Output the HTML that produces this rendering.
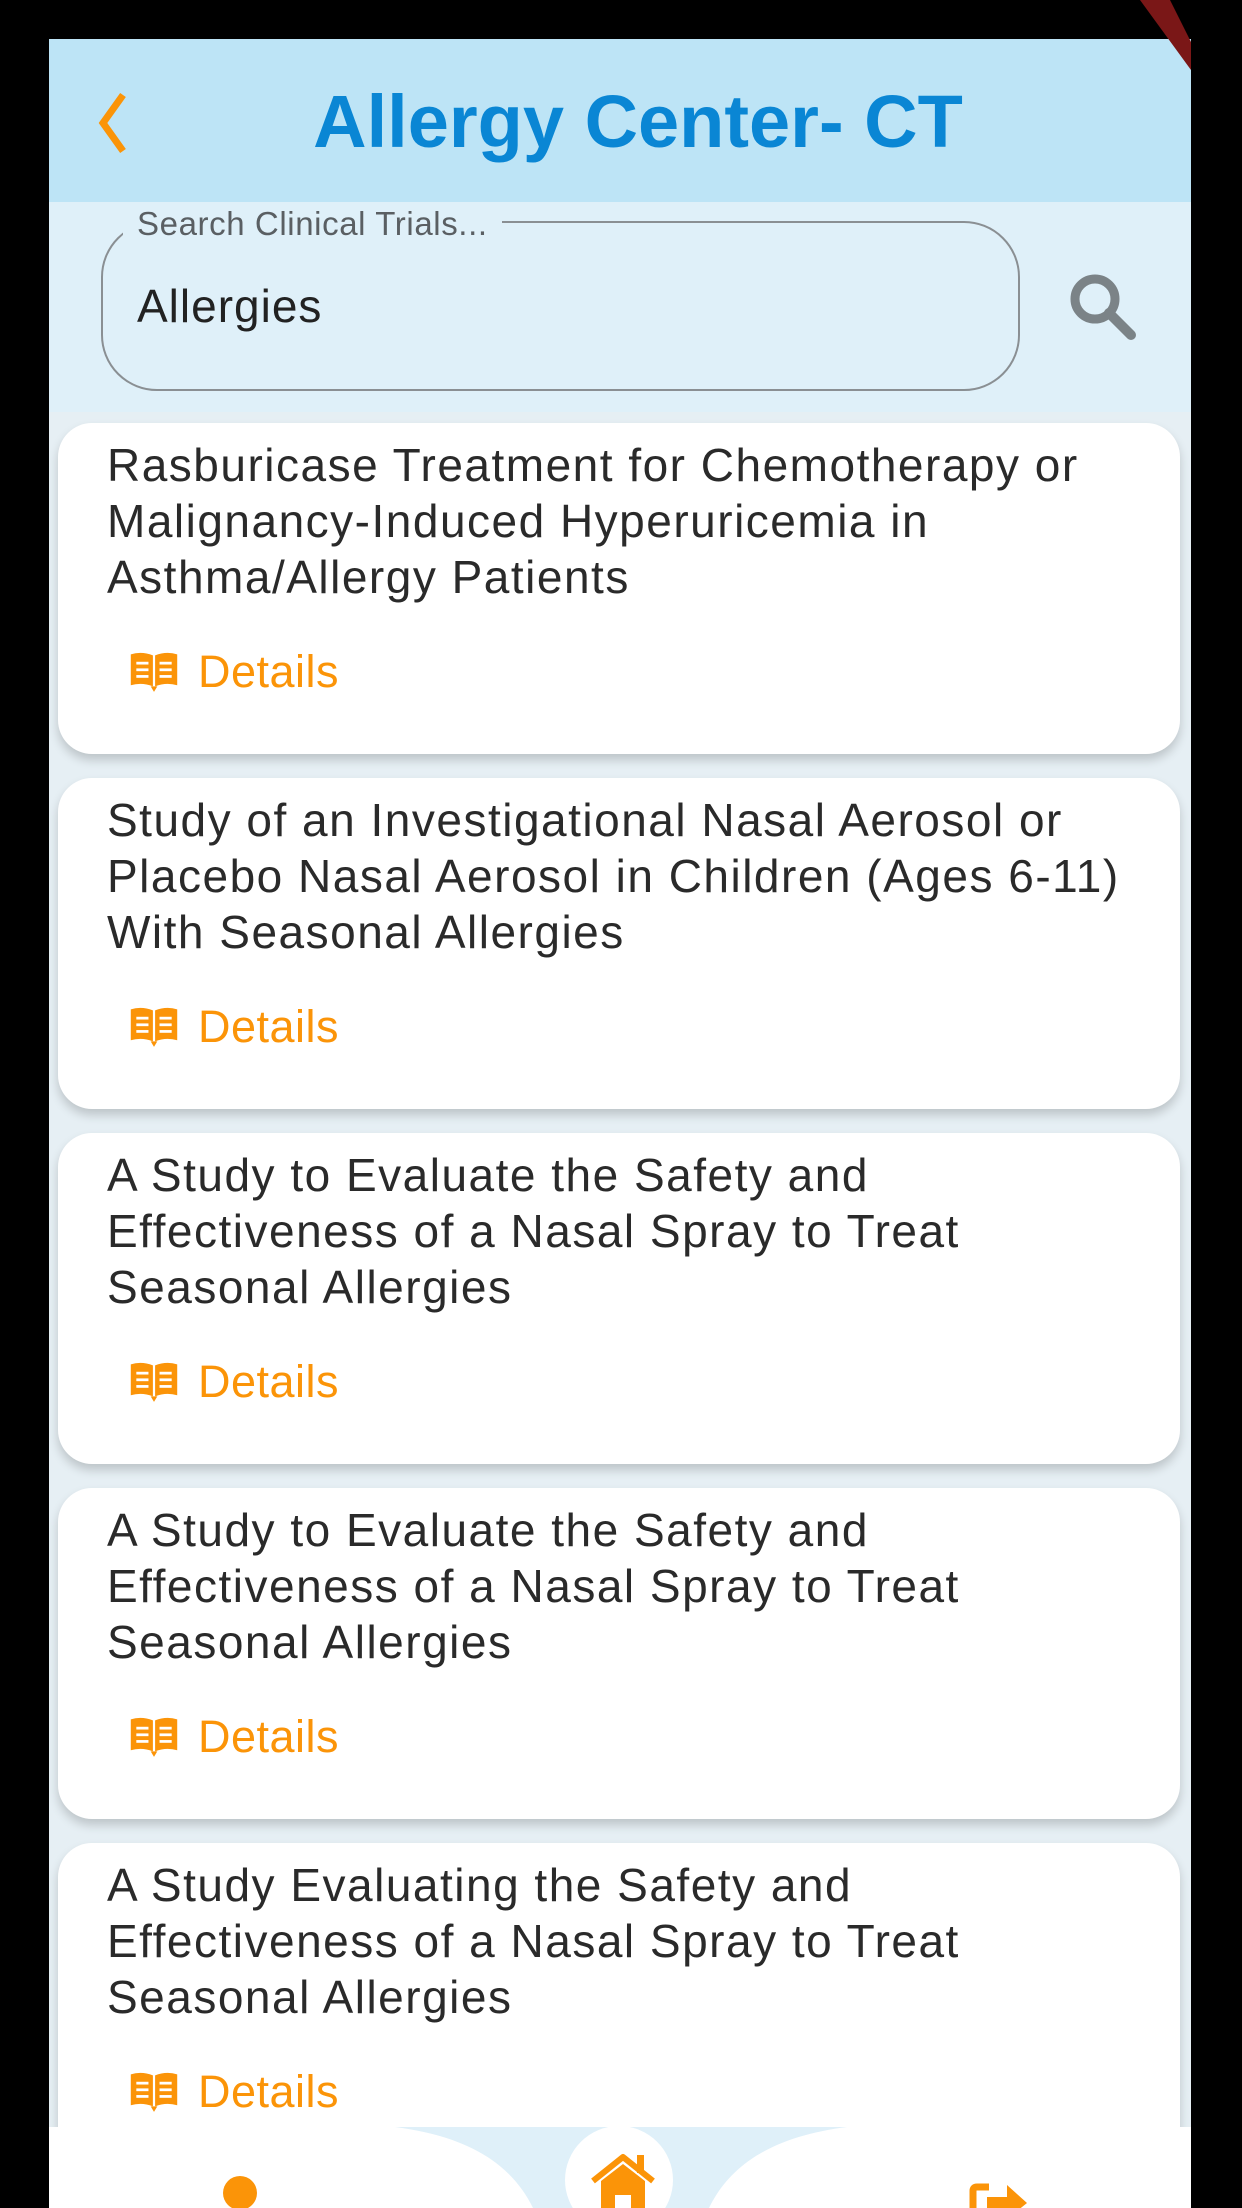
<!DOCTYPE html>
<html><head><meta charset="utf-8"><style>
*{margin:0;padding:0;box-sizing:border-box}
body{width:1242px;height:2208px;background:#000;position:relative;overflow:hidden;font-family:"Liberation Sans",sans-serif}
.abs{position:absolute}
#screen{left:49px;top:39px;width:1142px;height:2169px;background:#e6eff4;overflow:hidden}
.card{position:absolute;left:9px;width:1122px;height:331px;background:#fff;border-radius:34px;box-shadow:0 6px 10px rgba(0,0,0,0.18)}
.card .t{position:absolute;left:49px;top:14px;font-size:46px;line-height:56px;color:#2a2a2a;letter-spacing:1.5px}
.card .d{position:absolute;left:70px;top:224px;height:50px;display:flex;align-items:center;color:#fb9408;font-size:45px;letter-spacing:0.5px}
.card .d svg{margin-right:18px}
</style></head><body>
<div id="screen" class="abs">
  <div class="abs" style="left:0;top:0;width:1142px;height:163px;background:#bde4f6"></div>
  <svg class="abs" style="left:44px;top:52px" width="40" height="64" viewBox="0 0 40 64"><polyline points="30,4 10,32 30,60" fill="none" stroke="#fb9408" stroke-width="7"/></svg>
  <div class="abs" style="left:18px;width:1142px;top:38px;text-align:center;font-size:74px;font-weight:bold;color:#0a86d4;line-height:90px">Allergy Center- CT</div>
  <div class="abs" style="left:0;top:163px;width:1142px;height:210px;background:#dff0f9"></div>
  <div class="abs" style="left:52px;top:182px;width:919px;height:170px;border:2px solid #8a8f93;border-radius:56px"></div>
  <div class="abs" style="left:74px;top:166px;padding:0 14px;background:#dff0f9;font-size:33px;color:#5a5f63;line-height:38px;letter-spacing:0.6px">Search Clinical Trials...</div>
  <div class="abs" style="left:88px;top:240px;font-size:46px;color:#222;line-height:54px;letter-spacing:1px">Allergies</div>
  <svg class="abs" style="left:1016px;top:230px" width="76" height="76" viewBox="0 0 76 76"><circle cx="30" cy="30" r="20" fill="none" stroke="#7b8387" stroke-width="9"/><line x1="44" y1="44" x2="66" y2="66" stroke="#7b8387" stroke-width="10" stroke-linecap="round"/></svg>
  <div id="cards"></div>
  <div class="abs" style="left:0;top:2088px;width:1142px;height:81px;background:#fff"></div>
  <svg class="abs" style="left:0;top:2088px" width="1142" height="81" viewBox="0 0 1142 81"><path d="M346,0 L798,0 C720,10 680,40 660,81 L484,81 C464,40 424,10 346,0 Z" fill="#dff0f9"/><circle cx="570" cy="53" r="54" fill="#fff"/></svg>
  <div class="abs" style="left:174px;top:2137px;width:34px;height:34px;border-radius:50%;background:#fb9408"></div>
  <svg class="abs" style="left:540px;top:2112px" width="68" height="60" viewBox="0 0 68 60"><polyline points="4,30 34,6 64,30" fill="none" stroke="#fb9408" stroke-width="6" stroke-linejoin="round"/><rect x="48" y="4" width="7" height="18" fill="#fb9408"/><path d="M12,30 L34,13 L56,30 L56,60 L42,60 L42,44 L26,44 L26,60 L12,60Z" fill="#fb9408"/></svg>
  <svg class="abs" style="left:920px;top:2140px" width="60" height="40" viewBox="0 0 60 40"><path d="M20,8 L8,8 Q4,8 4,12 L4,40" fill="none" stroke="#fb9408" stroke-width="7"/><path d="M18,18 L38,18 L38,6 L58,24 L38,40 L18,40Z" fill="#fb9408"/></svg>
</div>
<svg class="abs" style="left:1120px;top:0" width="80" height="70" viewBox="0 0 80 70"><polygon points="20,0 50,0 71,42 71,70" fill="#7a1717"/></svg>
<script>
const titles=[
"Rasburicase Treatment for Chemotherapy or<br>Malignancy-Induced Hyperuricemia in<br>Asthma/Allergy Patients",
"Study of an Investigational Nasal Aerosol or<br>Placebo Nasal Aerosol in Children (Ages 6-11)<br>With Seasonal Allergies",
"A Study to Evaluate the Safety and<br>Effectiveness of a Nasal Spray to Treat<br>Seasonal Allergies",
"A Study to Evaluate the Safety and<br>Effectiveness of a Nasal Spray to Treat<br>Seasonal Allergies",
"A Study Evaluating the Safety and<br>Effectiveness of a Nasal Spray to Treat<br>Seasonal Allergies"];
const host=document.getElementById('cards');
const book='<svg width="52" height="42" viewBox="0 0 46 38"><path d="M2,3 Q12,0 22,4 L22,32 Q12,28 2,31Z M24,4 Q34,0 44,3 L44,31 Q34,28 24,32Z" fill="#fb9408"/><path d="M20,32 L23,37 L26,32Z" fill="#fb9408"/><g stroke="#fff" stroke-width="2.5"><line x1="7" y1="11" x2="18" y2="11"/><line x1="7" y1="17" x2="18" y2="17"/><line x1="7" y1="23" x2="18" y2="23"/><line x1="28" y1="11" x2="39" y2="11"/><line x1="28" y1="17" x2="39" y2="17"/><line x1="28" y1="23" x2="39" y2="23"/></g></svg>';
titles.forEach((t,i)=>{
  const c=document.createElement('div');c.className='card';c.style.top=(384+i*355)+'px';
  
  
  const tt=document.createElement('div');tt.className='t';tt.innerHTML=t;
  
  
  const d=document.createElement('div');d.className='d';d.innerHTML=book+'<span>Details</span>';
  
  
  c.appendChild(tt);c.appendChild(d);host.appendChild(c);
});
</script>
</body></html>
